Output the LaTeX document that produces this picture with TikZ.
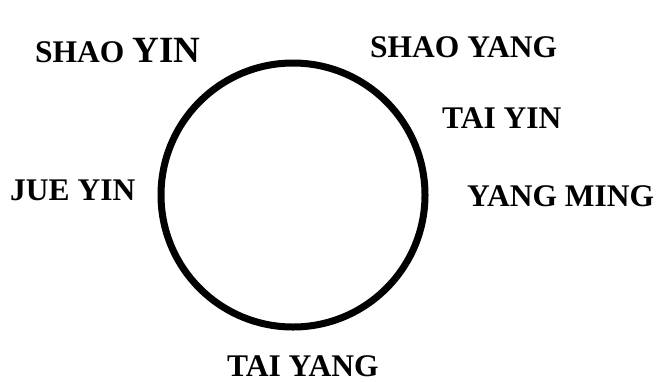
\documentclass[tikz,border=0pt]{standalone}
\usepackage{fontspec}
\setmainfont{Liberation Serif}
\usepackage{tikz}
\usetikzlibrary{positioning}

\tikzset{
    channel/.style={anchor=base west, inner sep=0pt, text depth=0pt, font=\fontsize{31.5}{36}\selectfont\bfseries},
}

\begin{document}
\begin{tikzpicture}[x=1pt, y=-1pt]
    \useasboundingbox (0,0) rectangle (660,381);

    % The cycle
    \node[circle, draw, line width=7pt, minimum size=264pt, inner sep=0pt] (wheel) at (293,195) {};

    % Channel names round it
    \node[channel] (shaoyin) at (35,62) {SHAO {\fontsize{37}{40}\selectfont YIN}};
    \node[channel] (shaoyang) at (370,57) {SHAO YANG};
    \node[channel] (taiyin) at (442,128) {TAI YIN};
    \node[channel] (jueyin) at (10,200) {JUE YIN};
    \node[channel] (yangming) at (467,206) {YANG MING};
    \node[channel] (taiyang) at (227,376) {TAI YANG};
\end{tikzpicture}
\end{document}
